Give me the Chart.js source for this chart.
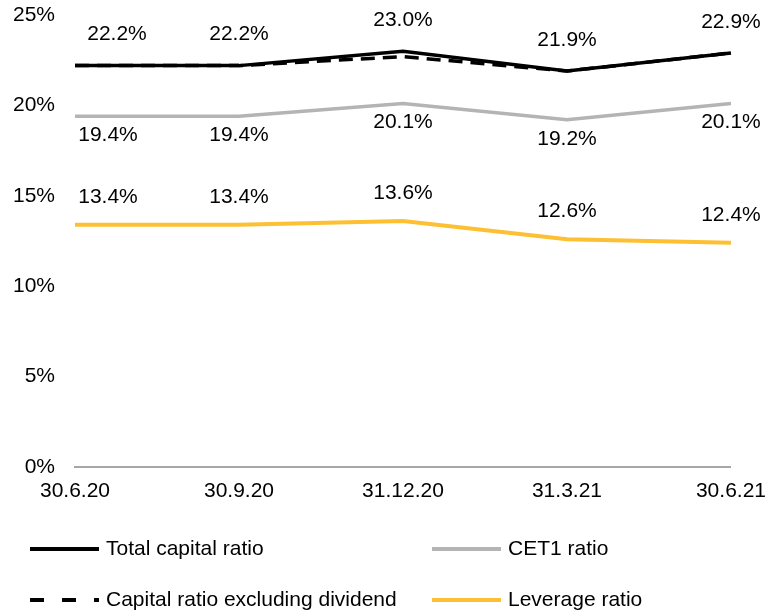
<!DOCTYPE html>
<html>
<head>
<meta charset="utf-8">
<script src="https://cdn.jsdelivr.net/npm/chart.js@4.4.0/dist/chart.umd.min.js"></script>
<style>
  html, body { margin: 0; padding: 0; background: #fff; }
</style>
</head>
<body>
<canvas id="ratioChart" width="766" height="612"></canvas>
<script>
// Kvartalsvise kapitaldata (%)
const quarters = ['30.6.20', '30.9.20', '31.12.20', '31.3.21', '30.6.21'];
const totalCapital = [22.2, 22.2, 23.0, 21.9, 22.9];
const capitalExDividend = [22.2, 22.2, 22.7, 21.9, 22.9];
const cet1 = [19.4, 19.4, 20.1, 19.2, 20.1];
const leverage = [13.4, 13.4, 13.6, 12.6, 12.4];
const yTicks = [0, 5, 10, 15, 20, 25];

const FONT = '"Liberation Sans", Arial, sans-serif';

// Verdier over/under linjene
const valueLabels = {
    id: 'valueLabels',
    afterDatasetsDraw(chart) {
        const ctx = chart.ctx;
        ctx.save();
        ctx.font = '21px ' + FONT;
        ctx.fillStyle = '#000';
        ctx.textBaseline = 'middle';
        ctx.textAlign = 'center';
        chart.data.datasets.forEach((ds, i) => {
            if (ds.labelDy === undefined) return;
            const meta = chart.getDatasetMeta(i);
            meta.data.forEach((pt, j) => {
                const txt = ds.data[j].toFixed(1) + '%';
                let x = pt.x;
                if (j === 0) x += ds.labelShiftFirst;
                ctx.fillText(txt, x, pt.y + ds.labelDy);
            });
        });
        ctx.restore();
    }
};

// Egen tegnforklaring i to kolonner under grafen
const bottomLegend = {
    id: 'bottomLegend',
    afterDraw(chart) {
        const ctx = chart.ctx;
        const slots = [
            { x: 30, y: 549 },
            { x: 30, y: 600 },
            { x: 432, y: 549 },
            { x: 432, y: 600 }
        ];
        ctx.save();
        ctx.font = '21px ' + FONT;
        ctx.textBaseline = 'middle';
        ctx.textAlign = 'left';
        chart.data.datasets.forEach((ds, i) => {
            const s = slots[i];
            ctx.beginPath();
            ctx.strokeStyle = ds.borderColor;
            ctx.lineWidth = 4;
            ctx.lineCap = 'butt';
            ctx.setLineDash(ds.borderDash ? [14, 18] : []);
            ctx.moveTo(s.x, s.y);
            ctx.lineTo(s.x + 69, s.y);
            ctx.stroke();
            ctx.setLineDash([]);
            ctx.fillStyle = '#000';
            ctx.fillText(ds.label, s.x + 76, s.y);
        });
        ctx.restore();
    }
};

new Chart(document.getElementById('ratioChart'), {
    type: 'line',
    data: {
        labels: quarters,
        datasets: [
            {
                label: 'Total capital ratio',
                data: totalCapital,
                borderColor: '#000000',
                borderWidth: 3.5,
                labelDy: -31,
                labelShiftFirst: 42
            },
            {
                label: 'Capital ratio excluding dividend',
                data: capitalExDividend,
                borderColor: '#000000',
                borderWidth: 3.5,
                borderDash: [14, 8]
            },
            {
                label: 'CET1 ratio',
                data: cet1,
                borderColor: '#B4B4B4',
                borderWidth: 3.5,
                labelDy: 19,
                labelShiftFirst: 33
            },
            {
                label: 'Leverage ratio',
                data: leverage,
                borderColor: '#FDC032',
                borderWidth: 4,
                labelDy: -28,
                labelShiftFirst: 33
            }
        ]
    },
    options: {
        responsive: false,
        animation: false,
        elements: {
            point: { radius: 0 },
            line: { tension: 0, fill: false }
        },
        layout: { padding: { top: 15, right: 34, left: 0, bottom: 0 } },
        plugins: {
            legend: { display: false },
            tooltip: { enabled: false }
        },
        scales: {
            x: {
                type: 'category',
                offset: false,
                // tickLength gir avstand til etikettene uten å blåse opp padding
                grid: { display: false, drawTicks: true, tickLength: 12 },
                border: { display: true, color: '#A6A6A6', width: 2 },
                ticks: {
                    color: '#000',
                    font: { family: FONT, size: 21 },
                    padding: 0,
                    maxRotation: 0,
                    autoSkip: false
                },
                afterFit(scale) { scale.height = 145; }
            },
            y: {
                min: 0,
                max: 25,
                afterBuildTicks(scale) {
                    scale.ticks = yTicks.map(v => ({ value: v }));
                },
                grid: { display: false, drawTicks: true, tickLength: 20 },
                border: { display: false },
                ticks: {
                    color: '#000',
                    font: { family: FONT, size: 21 },
                    padding: 0,
                    callback: v => v + '%'
                },
                afterFit(scale) { scale.width = 75; }
            }
        }
    },
    plugins: [valueLabels, bottomLegend]
});
</script>
</body>
</html>
